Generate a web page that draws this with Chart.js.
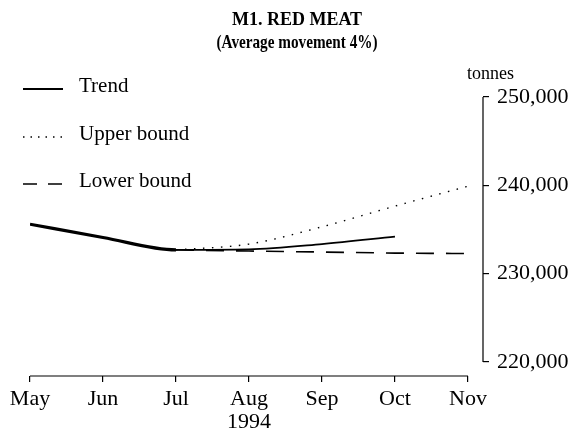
<!DOCTYPE html>
<html>
<head>
<meta charset="utf-8">
<script src="https://cdn.jsdelivr.net/npm/chart.js@4/dist/chart.umd.min.js"></script>
<style>
  html, body { margin: 0; padding: 0; background: #fff; }
  #wrap { width: 574px; height: 430px; }
</style>
</head>
<body>
<div id="wrap"><canvas id="chart" width="574" height="430"></canvas></div>
<script>
const months = ["May", "Jun", "Jul", "Aug", "Sep", "Oct", "Nov"];
const trend = [235600, 234100, 232700, 232750, 233350, 234200, null];
const upperBound = [null, null, 232700, 233350, 235300, 237650, 239900];
const lowerBound = [null, null, 232700, 232560, 232450, 232330, 232280];
const yTicks = [220000, 230000, 240000, 250000];

const toPoints = arr => arr.map((v, i) => ({ x: i, y: v }));

// axis lines only span May..Nov and 220,000..250,000, like the print
const axisLines = {
  id: "axisLines",
  afterDraw(chart) {
    const { ctx, chartArea, scales } = chart;
    ctx.save();
    ctx.strokeStyle = "#000";
    ctx.lineWidth = 1.2;
    ctx.beginPath();
    ctx.moveTo(scales.x.getPixelForValue(0), chartArea.bottom);
    ctx.lineTo(scales.x.getPixelForValue(months.length - 1), chartArea.bottom);
    ctx.moveTo(chartArea.right, scales.y.getPixelForValue(yTicks[0]));
    ctx.lineTo(chartArea.right, scales.y.getPixelForValue(yTicks[yTicks.length - 1]));
    ctx.stroke();
    ctx.restore();
  }
};

// title, legend and unit label
const annotations = {
  id: "annotations",
  afterDraw(chart) {
    const ctx = chart.ctx;
    ctx.save();
    ctx.fillStyle = "#000";
    ctx.textBaseline = "middle";
    ctx.textAlign = "center";
    ctx.font = "bold 18px 'Liberation Serif'";
    ctx.fillText("M1. RED MEAT", 297, 20);
    ctx.save();
    ctx.translate(297, 43);
    ctx.scale(0.78, 1);
    ctx.font = "bold 19.5px 'Liberation Serif'";
    ctx.fillText("(Average movement 4%)", 0, 0);
    ctx.restore();

    ctx.textAlign = "left";
    ctx.font = "18px 'Liberation Serif'";
    ctx.fillText("tonnes", 467, 74);

    ctx.font = "21px 'Liberation Serif'";
    const items = [
      { label: "Trend", y: 86, dash: [], width: 2 },
      { label: "Upper bound", y: 134, dash: [1.5, 6], width: 1.3 },
      { label: "Lower bound", y: 181, dash: [14, 11], width: 1.6 }
    ];
    items.forEach(it => {
      ctx.strokeStyle = "#000";
      ctx.lineWidth = it.width;
      ctx.setLineDash(it.dash);
      ctx.beginPath();
      ctx.moveTo(23, it.y + 3);
      ctx.lineTo(63, it.y + 3);
      ctx.stroke();
      ctx.fillText(it.label, 79, it.y);
    });
    ctx.restore();
  }
};

Chart.defaults.font.family = "'Liberation Serif', 'DejaVu Serif', serif";
Chart.defaults.color = "#000";

new Chart(document.getElementById("chart"), {
  type: "line",
  data: {
    datasets: [
      {
        label: "Trend",
        data: toPoints(trend),
        borderColor: "#000",
        borderWidth: 2,
        pointRadius: 0,
        cubicInterpolationMode: "monotone",
        segment: {
          borderWidth: c => (c.p0DataIndex < 2 ? 3.2 : 1.8)
        }
      },
      {
        label: "Upper bound",
        data: toPoints(upperBound),
        borderColor: "#000",
        borderWidth: 1.4,
        borderDash: [1.5, 7.5],
        pointRadius: 0,
        cubicInterpolationMode: "monotone"
      },
      {
        label: "Lower bound",
        data: toPoints(lowerBound),
        borderColor: "#000",
        borderWidth: 1.6,
        borderDash: [18, 12],
        pointRadius: 0,
        cubicInterpolationMode: "monotone"
      }
    ]
  },
  options: {
    responsive: false,
    animation: false,
    layout: { padding: { top: 97, left: 30, right: 0, bottom: 0 } },
    plugins: {
      legend: { display: false },
      title: { display: false },
      tooltip: { enabled: false }
    },
    scales: {
      x: {
        type: "linear",
        min: 0,
        max: 6.206,
        border: { display: false },
        grid: { drawOnChartArea: false, drawTicks: true, tickLength: 6, color: "#000", lineWidth: 1.2 },
        afterBuildTicks: s => { s.ticks = months.map((m, i) => ({ value: i })); },
        afterFit: s => { s.height = 54; },
        ticks: {
          autoSkip: false,
          maxRotation: 0,
          padding: 6,
          font: { size: 22, lineHeight: 1.05 },
          callback: v => (months[v] === "Aug" ? ["Aug", "1994"] : months[v])
        }
      },
      y: {
        position: "right",
        min: 218415,
        max: 250000,
        border: { display: false },
        grid: { drawOnChartArea: false, drawTicks: true, tickLength: 6, color: "#000", lineWidth: 1.2 },
        afterBuildTicks: s => { s.ticks = yTicks.map(v => ({ value: v })); },
        afterFit: s => { s.width = 91; },
        ticks: {
          padding: 8,
          font: { size: 22 },
          callback: v => v.toLocaleString("en-US")
        }
      }
    }
  },
  plugins: [axisLines, annotations]
});
</script>
</body>
</html>
